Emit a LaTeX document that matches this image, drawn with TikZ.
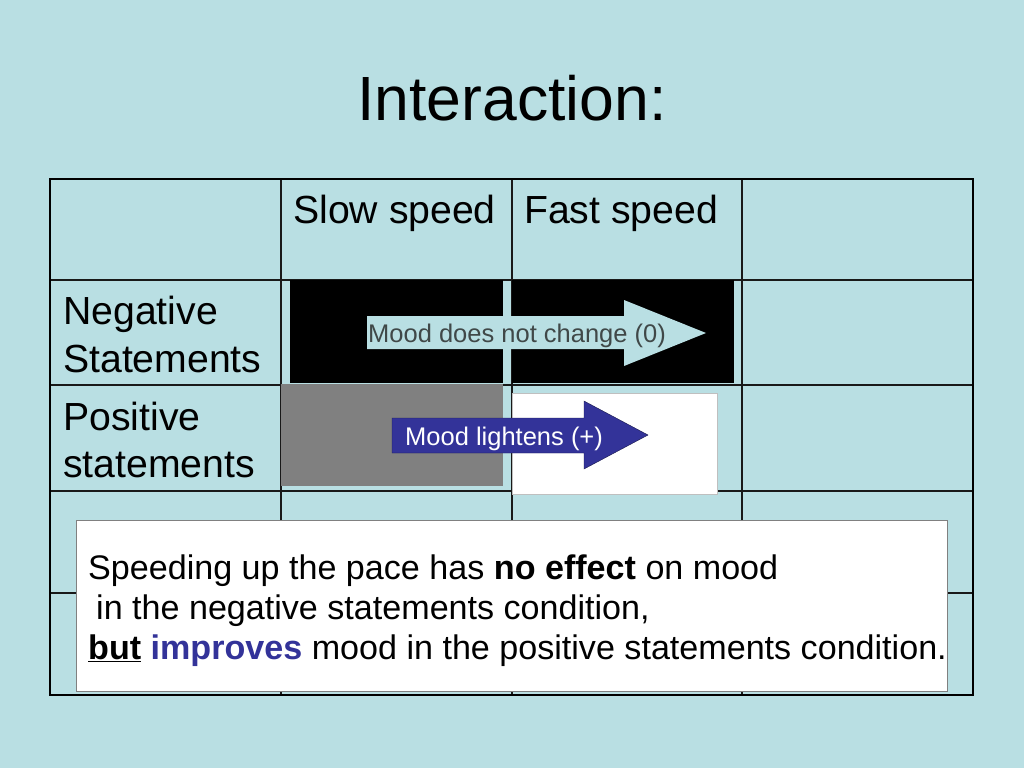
\documentclass[tikz,border=0pt]{standalone}
\usepackage{fontspec}
\setmainfont{Liberation Sans}
\definecolor{slidebg}{RGB}{185,223,227}
\definecolor{moodblue}{RGB}{51,51,153}
\definecolor{moodgray}{RGB}{64,72,72}
\begin{document}
\begin{tikzpicture}[x=1pt,y=-1pt,line join=miter]
	\tikzstyle{grid}=[draw=black!90,line width=1.4pt];
	\tikzstyle{frame}=[draw=black,line width=2.8pt];
	\tikzstyle{cell}=[anchor=base west,inner sep=0pt,font=\fontsize{39.2}{46}\selectfont];
	\tikzstyle{small}=[anchor=base west,inner sep=0pt,font=\fontsize{25.5}{30}\selectfont];
	\tikzstyle{note}=[anchor=base west,inner sep=0pt,font=\fontsize{34.1}{40}\selectfont];

	\fill[slidebg] (0,0) rectangle (1024,768);
	\useasboundingbox (0,0) rectangle (1024,768);
	\node[anchor=base,inner sep=0pt,font=\fontsize{62.5}{70}\selectfont] (title) at (512,120) {Interaction:};

	% table
	\foreach \x in {281,512,742} \draw[grid] (\x,179) -- (\x,695);
	\foreach \y in {280,385,491,593} \draw[grid] (50,\y) -- (973,\y);
	\draw[frame] (50,179) rectangle (973,695);

	% shaded cells
	\fill[black] (290,280) rectangle (503,383);
	\fill[black] (512,280) rectangle (734,383);
	\fill[black!50] (281,384) rectangle (503,486);
	\draw[fill=white,draw=black!25] (512,393) rectangle (717,494);

	\node[cell] (slow) at (293,223) {Slow speed};
	\node[cell] (fast) at (524,223) {Fast speed};
	\node[cell] (neg1) at (63,324) {Negative};
	\node[cell] (neg2) at (63,372) {Statements};
	\node[cell] (pos1) at (63,430) {Positive};
	\node[cell] (pos2) at (63,477) {statements};

	% arrows
	\draw[fill=slidebg,draw=none] (367,316) -- (624,316) -- (624,300) -- (706,333) -- (624,366) -- (624,349) -- (367,349) -- cycle;
	\node[small,text=moodgray] (nochange) at (368,342) {Mood does not change (0)};
	\draw[fill=moodblue,draw=moodblue!50!black] (392,418) -- (584,418) -- (584,401) -- (648,435) -- (584,469) -- (584,453) -- (392,453) -- cycle;
	\node[small,text=white] (lightens) at (405,445) {Mood lightens (+)};

	% summary
	\draw[fill=white,draw=black!50,line width=1pt] (76,520) rectangle (947,691);
	\node[note] (line1) at (88,579) {Speeding up the pace has \textbf{no effect} on mood};
	\node[note] (line2) at (96,619) {in the negative statements condition,};
	\node[note] (line3) at (88,659) {\textbf{\underline{but}} \textcolor{moodblue}{\textbf{improves}} mood in the positive statements condition.};
\end{tikzpicture}
\end{document}
